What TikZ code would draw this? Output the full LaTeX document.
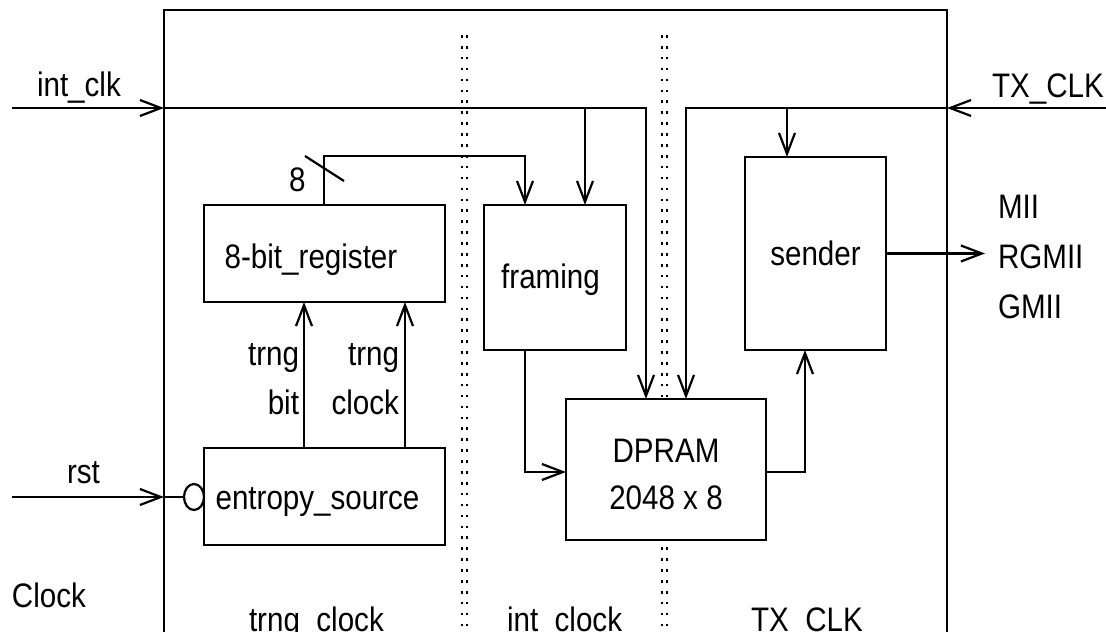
\documentclass[tikz,border=0pt]{standalone}
\usepackage{fontspec}
\setmainfont{Liberation Sans}[FakeStretch=0.87]
\usetikzlibrary{arrows.meta,shapes.geometric}
\begin{document}
\begin{tikzpicture}[x=1pt,y=-1pt,
  every node/.style={font=\fontsize{34}{47}\selectfont, inner sep=0pt, outer sep=0pt},
  box/.style={draw, line width=2.6pt, rectangle, fill=white},
  wire/.style={line width=2.2pt},
  arr/.style={wire, -{Straight Barb[length=21pt,width=16pt]}},
  dotline/.style={line width=2.6pt, dash pattern=on 2.6pt off 8.3pt},
  lbl/.style={anchor=base west},
  rlbl/.style={anchor=base east, align=right, font=\fontsize{34}{49}\selectfont},
]
\clip (0,0) rectangle (1106,632);

% outer chip boundary (bottom runs off the picture)
\node[draw, line width=2.6pt, rectangle, minimum width=783pt, minimum height=700pt] (chip) at (555.5,360) {};

% clock-domain dividers
\draw[dotline] (462,35) -- (462,640);
\draw[dotline] (467,35) -- (467,640);
\draw[dotline] (662,35) -- (662,640);
\draw[dotline] (667,35) -- (667,640);

% blocks
\node[box, minimum width=241pt, minimum height=97pt, text height=29pt, text depth=0pt] (reg) at (324.5,253.5) {\hspace*{-27pt}8-bit\_register};
\node[box, minimum width=241pt, minimum height=97pt, text height=25pt, text depth=0pt] (ent) at (324.5,496.5) {\hspace*{-14pt}entropy\_source};
\node[box, minimum width=142pt, minimum height=145pt, text height=21pt, text depth=0pt] (framing) at (555,277.5) {\hspace*{-9pt}framing};
\node[box, minimum width=141pt, minimum height=193pt, text height=23pt, text depth=0pt] (sender) at (815.5,253.5) {sender};
\node[box, minimum width=200pt, minimum height=141pt, align=center, text height=79pt, text depth=0pt] (dpram) at (666,469.5) {DPRAM\\2048 x 8};
\node[draw, line width=2.2pt, ellipse, minimum width=20pt, minimum height=26pt, fill=white] (bub) at (194,497) {};

% routing points
\coordinate (intL) at (12,108);
\coordinate (intR) at (646,108);
\coordinate (fclk) at (585,108);
\coordinate (txR) at (1106,108);
\coordinate (txL) at (686,108);
\coordinate (sclk) at (787,108);
\coordinate (b1) at (324,156);
\coordinate (b2) at (525,156);
\coordinate (fd) at (525,472);
\coordinate (ds) at (805,472);
\coordinate (outE) at (985,253.5);
\coordinate (rstL) at (12,497);
\coordinate (tb) at (304,448);
\coordinate (tc) at (405,448);

% connectors
\draw[arr] (intL) -- (intL -| chip.west);
\draw[arr] (intL -| chip.west) -- (intR) -- (intR |- dpram.north);
\draw[arr] (fclk) -- (fclk |- framing.north);
\draw[arr] (txR) -- (txR -| chip.east);
\draw[arr] (txR -| chip.east) -- (txL) -- (txL |- dpram.north);
\draw[arr] (sclk) -- (sclk |- sender.north);
\draw[arr] (b1 |- reg.north) -- (b1) -- (b2) -- (b2 |- framing.north);
\draw[wire] (305,156) -- (344,181);
\draw[arr] (framing.south -| fd) -- (fd) -- (fd -| dpram.west);
\draw[arr] (dpram.east |- ds) -- (ds) -- (ds |- sender.south);
\draw[arr] (sender.east) -- (outE);
\draw[arr] (ent.north -| tb) -- (reg.south -| tb);
\draw[arr] (ent.north -| tc) -- (reg.south -| tc);
\draw[arr] (rstL) -- (rstL -| chip.west);
\draw[wire] (rstL -| chip.west) -- (bub.west);

% labels
\node[lbl] (lint) at (37,96) {int\_clk};
\node[lbl] (ltx) at (992,97) {TX\_CLK};
\node[lbl, align=left, font=\fontsize{34}{50}\selectfont] (lmii) at (998,318) {MII\\RGMII\\GMII};
\node[lbl] (lrst) at (67,483) {rst};
\node[lbl] (l8) at (289,191) {8};
\node[rlbl] (ltb) at (299,414) {trng\\bit};
\node[rlbl] (ltc) at (399,414) {trng\\clock};
\node[lbl] (lclock) at (12,607) {Clock};
\node[lbl] (dtrng) at (249,631) {trng\_clock};
\node[lbl] (dint) at (507,631) {int\_clock};
\node[lbl] (dtx) at (751,631) {TX\_CLK};
\end{tikzpicture}
\end{document}
